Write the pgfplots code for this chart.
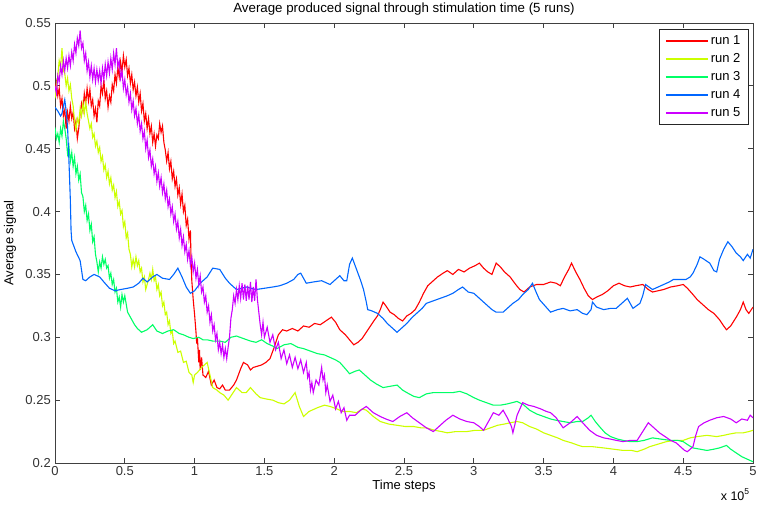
\documentclass[border=0pt]{standalone}
\usepackage{fontspec}
\setmainfont{Liberation Sans}
\usepackage{pgfplots}
\pgfplotsset{compat=1.18}
\definecolor{runA}{rgb}{1,0,0}
\definecolor{runB}{rgb}{0.8,1,0}
\definecolor{runC}{rgb}{0,1,0.4}
\definecolor{runD}{rgb}{0,0.4,1}
\definecolor{runE}{rgb}{0.8,0,1}
\begin{document}
\begin{tikzpicture}[x=1pt,y=1pt]
\path[use as bounding box] (0,0) rectangle (757,504);
\begin{axis}[
  at={(55pt,41pt)}, anchor=south west,
  width=698pt, height=440pt, scale only axis,
  xmin=0, xmax=5, ymin=0.2, ymax=0.55,
  xtick={0,0.5,1,1.5,2,2.5,3,3.5,4,4.5,5},
  xticklabels={0,0.5,1,1.5,2,2.5,3,3.5,4,4.5,5},
  ytick={0.2,0.25,0.3,0.35,0.4,0.45,0.5,0.55},
  yticklabels={0.2,0.25,0.3,0.35,0.4,0.45,0.5,0.55},
  tick align=inside, major tick length=5pt,
  axis line style={black!75, line width=0.8pt},
  tick style={black!75, line width=0.8pt},
  ticklabel style={font=\fontsize{13}{15}\selectfont, text=black!80},
  xticklabel style={anchor=north, inner sep=0pt, yshift=-3pt},
  yticklabel style={anchor=east, inner sep=0pt, xshift=-4pt},
  legend style={at={(0.994,0.986)}, anchor=north east, draw=black!85, line width=0.8pt,
    font=\fontsize{13}{15}\selectfont, row sep=3.6pt, inner xsep=6pt, inner ysep=4pt},
  legend cell align=left,
  legend image code/.code={\draw[#1] (0pt,0pt) -- (42pt,0pt);},
  every axis plot/.append style={line width=1.1pt},
]
\addlegendimage{draw=runA, line width=1.6pt}
\addlegendimage{draw=runB, line width=1.6pt}
\addlegendimage{draw=runC, line width=1.6pt}
\addlegendimage{draw=runD, line width=1.6pt}
\addlegendimage{draw=runE, line width=1.6pt}
\legend{run 1, run 2, run 3, run 4, run 5}
\addplot[draw=runA, forget plot] coordinates {(0.00,0.497)(0.01,0.503)(0.02,0.492)(0.03,0.498)(0.04,0.484)(0.05,0.490)(0.06,0.476)(0.07,0.481)(0.08,0.466)(0.09,0.479)(0.10,0.472)(0.11,0.484)(0.12,0.474)(0.13,0.479)(0.14,0.466)(0.15,0.472)(0.16,0.458)(0.17,0.466)(0.18,0.478)(0.19,0.486)(0.20,0.480)(0.21,0.494)(0.22,0.486)(0.23,0.498)(0.24,0.488)(0.25,0.497)(0.26,0.484)(0.27,0.489)(0.28,0.476)(0.29,0.482)(0.30,0.471)(0.31,0.488)(0.32,0.484)(0.33,0.500)(0.34,0.494)(0.35,0.505)(0.36,0.490)(0.37,0.496)(0.38,0.483)(0.39,0.492)(0.40,0.487)(0.41,0.501)(0.42,0.496)(0.43,0.509)(0.44,0.502)(0.45,0.515)(0.46,0.507)(0.47,0.519)(0.48,0.511)(0.49,0.524)(0.50,0.515)(0.51,0.521)(0.52,0.508)(0.53,0.514)(0.54,0.502)(0.55,0.509)(0.56,0.497)(0.57,0.503)(0.58,0.492)(0.59,0.499)(0.60,0.487)(0.61,0.494)(0.62,0.480)(0.63,0.486)(0.64,0.472)(0.65,0.478)(0.66,0.466)(0.67,0.474)(0.68,0.462)(0.69,0.468)(0.70,0.455)(0.71,0.462)(0.72,0.452)(0.73,0.461)(0.74,0.458)(0.75,0.470)(0.76,0.463)(0.77,0.468)(0.78,0.455)(0.79,0.449)(0.80,0.440)(0.81,0.447)(0.82,0.434)(0.83,0.440)(0.84,0.426)(0.85,0.432)(0.86,0.420)(0.87,0.426)(0.88,0.413)(0.89,0.419)(0.90,0.406)(0.91,0.414)(0.92,0.400)(0.93,0.405)(0.94,0.389)(0.95,0.394)(0.96,0.378)(0.97,0.385)(0.975,0.360)(0.98,0.345)(0.99,0.330)(1.00,0.318)(1.01,0.304)(1.015,0.295)(1.02,0.300)(1.03,0.280)(1.035,0.290)(1.04,0.274)(1.05,0.284)(1.06,0.270)(1.08,0.268)(1.1,0.273)(1.12,0.262)(1.14,0.266)(1.16,0.26)(1.18,0.259)(1.2,0.262)(1.22,0.258)(1.25,0.258)(1.28,0.262)(1.30,0.266)(1.33,0.275)(1.35,0.28)(1.38,0.278)(1.40,0.274)(1.42,0.276)(1.45,0.277)(1.48,0.278)(1.51,0.28)(1.54,0.283)(1.57,0.292)(1.60,0.302)(1.63,0.306)(1.66,0.305)(1.70,0.307)(1.74,0.305)(1.78,0.309)(1.82,0.308)(1.86,0.311)(1.90,0.31)(1.94,0.313)(1.98,0.316)(2.01,0.312)(2.04,0.306)(2.08,0.302)(2.11,0.298)(2.14,0.294)(2.17,0.296)(2.2,0.299)(2.23,0.304)(2.26,0.309)(2.29,0.314)(2.31,0.317)(2.33,0.322)(2.35,0.328)(2.37,0.325)(2.40,0.32)(2.43,0.318)(2.46,0.315)(2.49,0.313)(2.52,0.317)(2.55,0.319)(2.58,0.322)(2.61,0.328)(2.64,0.335)(2.67,0.341)(2.70,0.344)(2.74,0.348)(2.78,0.351)(2.81,0.353)(2.85,0.35)(2.89,0.354)(2.93,0.352)(2.97,0.355)(3.01,0.357)(3.04,0.359)(3.07,0.355)(3.10,0.352)(3.13,0.35)(3.16,0.359)(3.19,0.356)(3.22,0.352)(3.26,0.348)(3.30,0.342)(3.33,0.338)(3.36,0.336)(3.40,0.34)(3.45,0.342)(3.50,0.342)(3.55,0.344)(3.59,0.343)(3.62,0.341)(3.65,0.348)(3.68,0.354)(3.70,0.359)(3.73,0.352)(3.76,0.346)(3.79,0.339)(3.82,0.333)(3.85,0.33)(3.88,0.332)(3.92,0.334)(3.96,0.337)(4.00,0.341)(4.04,0.343)(4.08,0.341)(4.12,0.34)(4.16,0.341)(4.21,0.342)(4.25,0.338)(4.28,0.336)(4.32,0.337)(4.36,0.338)(4.41,0.34)(4.46,0.341)(4.50,0.342)(4.53,0.339)(4.57,0.334)(4.60,0.33)(4.64,0.326)(4.68,0.322)(4.72,0.319)(4.76,0.314)(4.79,0.309)(4.81,0.306)(4.84,0.309)(4.88,0.316)(4.91,0.322)(4.93,0.328)(4.95,0.322)(4.97,0.319)(5.0,0.324)};
\addplot[draw=runB, forget plot] coordinates {(0.00,0.490)(0.01,0.500)(0.02,0.508)(0.03,0.520)(0.04,0.515)(0.05,0.530)(0.06,0.512)(0.07,0.510)(0.08,0.500)(0.09,0.506)(0.10,0.496)(0.11,0.501)(0.12,0.490)(0.13,0.484)(0.14,0.472)(0.15,0.465)(0.16,0.474)(0.17,0.470)(0.18,0.482)(0.19,0.476)(0.20,0.486)(0.21,0.478)(0.22,0.487)(0.23,0.478)(0.24,0.472)(0.25,0.466)(0.26,0.470)(0.27,0.459)(0.28,0.462)(0.29,0.452)(0.30,0.456)(0.31,0.447)(0.32,0.451)(0.33,0.440)(0.34,0.444)(0.35,0.433)(0.36,0.437)(0.37,0.427)(0.38,0.432)(0.39,0.422)(0.40,0.427)(0.41,0.417)(0.42,0.421)(0.43,0.411)(0.44,0.416)(0.45,0.404)(0.46,0.408)(0.47,0.398)(0.48,0.401)(0.49,0.388)(0.50,0.392)(0.51,0.379)(0.52,0.383)(0.53,0.370)(0.54,0.366)(0.55,0.356)(0.56,0.362)(0.57,0.356)(0.58,0.364)(0.59,0.357)(0.60,0.361)(0.61,0.352)(0.62,0.355)(0.63,0.344)(0.64,0.348)(0.65,0.338)(0.66,0.342)(0.67,0.346)(0.68,0.351)(0.69,0.346)(0.70,0.354)(0.71,0.345)(0.72,0.348)(0.73,0.338)(0.74,0.342)(0.75,0.333)(0.76,0.336)(0.77,0.325)(0.78,0.328)(0.79,0.318)(0.80,0.320)(0.81,0.310)(0.82,0.313)(0.83,0.303)(0.84,0.305)(0.85,0.295)(0.86,0.297)(0.88,0.288)(0.90,0.289)(0.92,0.280)(0.94,0.281)(0.96,0.272)(0.98,0.270)(0.99,0.264)(1.00,0.270)(1.02,0.272)(1.05,0.276)(1.09,0.28)(1.11,0.27)(1.13,0.26)(1.16,0.258)(1.18,0.256)(1.21,0.254)(1.24,0.25)(1.27,0.255)(1.30,0.26)(1.34,0.256)(1.37,0.256)(1.40,0.26)(1.44,0.255)(1.47,0.252)(1.51,0.251)(1.56,0.25)(1.60,0.248)(1.64,0.247)(1.68,0.25)(1.72,0.256)(1.75,0.245)(1.78,0.237)(1.82,0.241)(1.88,0.244)(1.93,0.246)(1.97,0.245)(2.02,0.243)(2.06,0.241)(2.11,0.241)(2.16,0.24)(2.20,0.243)(2.23,0.242)(2.28,0.237)(2.33,0.233)(2.39,0.231)(2.45,0.23)(2.51,0.229)(2.57,0.229)(2.62,0.228)(2.66,0.228)(2.72,0.226)(2.77,0.225)(2.81,0.224)(2.87,0.225)(2.95,0.225)(3.01,0.226)(3.07,0.226)(3.12,0.228)(3.17,0.23)(3.22,0.231)(3.26,0.232)(3.31,0.233)(3.35,0.232)(3.40,0.229)(3.45,0.227)(3.50,0.224)(3.55,0.222)(3.60,0.22)(3.64,0.218)(3.70,0.216)(3.75,0.214)(3.78,0.213)(3.85,0.213)(3.93,0.212)(4.0,0.211)(4.07,0.21)(4.13,0.21)(4.17,0.209)(4.22,0.211)(4.26,0.213)(4.32,0.215)(4.38,0.217)(4.44,0.218)(4.50,0.218)(4.55,0.22)(4.60,0.221)(4.67,0.222)(4.74,0.221)(4.79,0.222)(4.83,0.223)(4.88,0.224)(4.93,0.224)(4.97,0.225)(5.0,0.226)};
\addplot[draw=runC, forget plot] coordinates {(0.00,0.467)(0.01,0.458)(0.02,0.462)(0.03,0.455)(0.04,0.466)(0.05,0.460)(0.06,0.472)(0.07,0.466)(0.08,0.458)(0.09,0.446)(0.10,0.452)(0.11,0.440)(0.12,0.447)(0.13,0.436)(0.14,0.443)(0.15,0.430)(0.16,0.436)(0.17,0.425)(0.18,0.430)(0.19,0.415)(0.20,0.412)(0.21,0.400)(0.22,0.405)(0.23,0.393)(0.24,0.398)(0.25,0.385)(0.26,0.390)(0.27,0.376)(0.28,0.380)(0.29,0.366)(0.30,0.360)(0.31,0.352)(0.32,0.360)(0.33,0.355)(0.34,0.364)(0.35,0.358)(0.36,0.362)(0.37,0.355)(0.38,0.357)(0.39,0.347)(0.40,0.351)(0.41,0.342)(0.42,0.346)(0.43,0.336)(0.44,0.339)(0.45,0.328)(0.46,0.332)(0.47,0.324)(0.48,0.334)(0.49,0.328)(0.50,0.333)(0.52,0.320)(0.54,0.316)(0.57,0.31)(0.59,0.307)(0.62,0.304)(0.66,0.306)(0.70,0.31)(0.73,0.305)(0.77,0.303)(0.81,0.305)(0.85,0.306)(0.89,0.303)(0.92,0.302)(0.96,0.3)(0.99,0.299)(1.03,0.3)(1.06,0.298)(1.09,0.298)(1.13,0.297)(1.18,0.297)(1.22,0.296)(1.26,0.3)(1.30,0.301)(1.35,0.299)(1.40,0.297)(1.44,0.296)(1.48,0.298)(1.52,0.295)(1.56,0.293)(1.59,0.291)(1.64,0.294)(1.69,0.295)(1.74,0.292)(1.78,0.291)(1.83,0.289)(1.88,0.287)(1.93,0.286)(1.97,0.284)(2.01,0.282)(2.04,0.28)(2.08,0.275)(2.11,0.271)(2.15,0.273)(2.18,0.274)(2.22,0.27)(2.26,0.266)(2.30,0.263)(2.35,0.26)(2.40,0.261)(2.45,0.262)(2.49,0.258)(2.52,0.256)(2.57,0.253)(2.61,0.252)(2.66,0.255)(2.71,0.256)(2.78,0.256)(2.85,0.256)(2.90,0.257)(2.95,0.255)(3.0,0.252)(3.04,0.25)(3.09,0.248)(3.14,0.246)(3.19,0.246)(3.24,0.247)(3.31,0.249)(3.36,0.246)(3.40,0.242)(3.45,0.239)(3.50,0.237)(3.55,0.235)(3.59,0.234)(3.64,0.233)(3.69,0.232)(3.74,0.233)(3.78,0.233)(3.82,0.236)(3.84,0.238)(3.87,0.233)(3.90,0.229)(3.94,0.224)(3.98,0.221)(4.03,0.219)(4.07,0.218)(4.12,0.217)(4.17,0.217)(4.22,0.218)(4.28,0.22)(4.34,0.219)(4.41,0.218)(4.46,0.218)(4.50,0.217)(4.54,0.214)(4.57,0.212)(4.62,0.211)(4.67,0.21)(4.72,0.211)(4.76,0.212)(4.81,0.214)(4.84,0.211)(4.88,0.208)(4.92,0.205)(4.96,0.203)(5.0,0.201)};
\addplot[draw=runD, forget plot] coordinates {(0,0.483)(0.02,0.48)(0.04,0.476)(0.05,0.478)(0.07,0.489)(0.08,0.48)(0.09,0.467)(0.10,0.44)(0.11,0.409)(0.115,0.385)(0.12,0.377)(0.15,0.368)(0.18,0.361)(0.20,0.346)(0.22,0.345)(0.25,0.348)(0.28,0.35)(0.32,0.348)(0.35,0.344)(0.39,0.339)(0.43,0.337)(0.47,0.338)(0.52,0.339)(0.56,0.34)(0.60,0.343)(0.63,0.347)(0.66,0.344)(0.70,0.348)(0.73,0.35)(0.77,0.347)(0.82,0.346)(0.85,0.35)(0.88,0.355)(0.91,0.348)(0.94,0.34)(0.97,0.335)(1.0,0.337)(1.04,0.343)(1.09,0.348)(1.13,0.355)(1.18,0.354)(1.22,0.347)(1.25,0.343)(1.30,0.338)(1.37,0.34)(1.44,0.338)(1.50,0.339)(1.56,0.34)(1.61,0.341)(1.66,0.343)(1.71,0.346)(1.74,0.35)(1.76,0.351)(1.80,0.343)(1.85,0.344)(1.91,0.345)(1.97,0.342)(2.01,0.346)(2.04,0.349)(2.07,0.345)(2.09,0.345)(2.11,0.358)(2.13,0.363)(2.16,0.354)(2.19,0.345)(2.21,0.338)(2.23,0.328)(2.24,0.322)(2.27,0.321)(2.31,0.319)(2.35,0.315)(2.38,0.311)(2.42,0.307)(2.45,0.304)(2.48,0.307)(2.52,0.311)(2.56,0.316)(2.59,0.319)(2.63,0.323)(2.66,0.327)(2.71,0.329)(2.76,0.331)(2.81,0.333)(2.85,0.335)(2.89,0.338)(2.92,0.34)(2.96,0.336)(3.0,0.335)(3.04,0.331)(3.09,0.326)(3.13,0.322)(3.16,0.32)(3.21,0.32)(3.25,0.324)(3.28,0.327)(3.32,0.33)(3.35,0.334)(3.39,0.338)(3.42,0.343)(3.45,0.335)(3.47,0.33)(3.51,0.325)(3.55,0.32)(3.60,0.322)(3.64,0.323)(3.69,0.321)(3.74,0.322)(3.78,0.319)(3.81,0.318)(3.84,0.322)(3.85,0.328)(3.88,0.324)(3.93,0.322)(3.98,0.323)(4.02,0.323)(4.06,0.327)(4.10,0.331)(4.14,0.323)(4.19,0.327)(4.21,0.333)(4.23,0.342)(4.28,0.338)(4.32,0.34)(4.36,0.342)(4.40,0.344)(4.43,0.346)(4.48,0.346)(4.52,0.346)(4.55,0.348)(4.57,0.351)(4.60,0.358)(4.62,0.364)(4.65,0.362)(4.69,0.359)(4.72,0.353)(4.74,0.352)(4.76,0.362)(4.79,0.37)(4.82,0.376)(4.85,0.372)(4.88,0.367)(4.91,0.364)(4.93,0.361)(4.96,0.366)(4.98,0.363)(5.0,0.37)};
\addplot[draw=runE, forget plot] coordinates {(0.00,0.500)(0.01,0.494)(0.02,0.508)(0.03,0.503)(0.04,0.516)(0.05,0.509)(0.06,0.520)(0.07,0.512)(0.08,0.522)(0.09,0.514)(0.10,0.524)(0.11,0.516)(0.12,0.527)(0.13,0.520)(0.14,0.533)(0.15,0.526)(0.16,0.538)(0.17,0.532)(0.18,0.544)(0.19,0.530)(0.20,0.534)(0.21,0.520)(0.22,0.526)(0.23,0.512)(0.24,0.519)(0.25,0.507)(0.26,0.516)(0.27,0.505)(0.28,0.514)(0.29,0.503)(0.30,0.513)(0.31,0.504)(0.32,0.512)(0.33,0.502)(0.34,0.514)(0.35,0.505)(0.36,0.517)(0.37,0.508)(0.38,0.519)(0.39,0.510)(0.40,0.522)(0.41,0.513)(0.42,0.526)(0.43,0.517)(0.44,0.530)(0.45,0.515)(0.46,0.520)(0.47,0.506)(0.48,0.512)(0.49,0.498)(0.50,0.505)(0.51,0.493)(0.52,0.499)(0.53,0.487)(0.54,0.494)(0.55,0.481)(0.56,0.488)(0.57,0.476)(0.58,0.482)(0.59,0.470)(0.60,0.477)(0.61,0.464)(0.62,0.470)(0.63,0.458)(0.64,0.464)(0.65,0.450)(0.66,0.457)(0.67,0.443)(0.68,0.449)(0.69,0.436)(0.70,0.442)(0.71,0.430)(0.72,0.436)(0.73,0.424)(0.74,0.431)(0.75,0.420)(0.76,0.427)(0.77,0.415)(0.78,0.422)(0.79,0.410)(0.80,0.417)(0.81,0.404)(0.82,0.410)(0.83,0.398)(0.84,0.404)(0.85,0.392)(0.86,0.398)(0.87,0.386)(0.88,0.392)(0.89,0.379)(0.90,0.386)(0.91,0.373)(0.92,0.380)(0.93,0.368)(0.94,0.374)(0.95,0.362)(0.96,0.369)(0.97,0.357)(0.98,0.364)(0.99,0.352)(1.00,0.359)(1.01,0.347)(1.02,0.354)(1.03,0.342)(1.04,0.349)(1.05,0.336)(1.06,0.340)(1.07,0.328)(1.08,0.333)(1.09,0.320)(1.10,0.325)(1.11,0.312)(1.12,0.318)(1.13,0.305)(1.14,0.310)(1.15,0.298)(1.16,0.303)(1.17,0.290)(1.18,0.296)(1.19,0.287)(1.20,0.294)(1.21,0.284)(1.22,0.291)(1.23,0.283)(1.24,0.292)(1.25,0.300)(1.26,0.315)(1.27,0.322)(1.28,0.333)(1.29,0.327)(1.30,0.338)(1.31,0.330)(1.32,0.341)(1.33,0.331)(1.34,0.343)(1.35,0.330)(1.36,0.342)(1.37,0.329)(1.38,0.341)(1.39,0.330)(1.40,0.344)(1.41,0.328)(1.42,0.340)(1.43,0.329)(1.44,0.346)(1.45,0.330)(1.46,0.320)(1.47,0.310)(1.48,0.302)(1.49,0.312)(1.50,0.300)(1.52,0.308)(1.54,0.296)(1.56,0.302)(1.58,0.290)(1.60,0.296)(1.62,0.283)(1.64,0.290)(1.66,0.279)(1.68,0.286)(1.70,0.276)(1.72,0.284)(1.74,0.275)(1.76,0.282)(1.78,0.272)(1.80,0.280)(1.81,0.268)(1.82,0.272)(1.83,0.258)(1.84,0.264)(1.85,0.256)(1.87,0.266)(1.89,0.262)(1.91,0.276)(1.92,0.266)(1.93,0.270)(1.94,0.256)(1.95,0.262)(1.97,0.249)(1.99,0.254)(2.01,0.243)(2.03,0.249)(2.05,0.240)(2.07,0.244)(2.09,0.234)(2.11,0.238)(2.15,0.238)(2.19,0.242)(2.23,0.245)(2.28,0.24)(2.33,0.237)(2.37,0.235)(2.42,0.233)(2.47,0.237)(2.52,0.24)(2.56,0.236)(2.61,0.232)(2.66,0.228)(2.71,0.225)(2.75,0.229)(2.80,0.234)(2.85,0.238)(2.90,0.235)(2.95,0.233)(3.0,0.232)(3.04,0.229)(3.07,0.226)(3.10,0.232)(3.14,0.24)(3.18,0.238)(3.21,0.242)(3.24,0.236)(3.27,0.229)(3.28,0.224)(3.31,0.238)(3.35,0.248)(3.39,0.246)(3.43,0.245)(3.48,0.243)(3.52,0.241)(3.55,0.24)(3.59,0.236)(3.64,0.228)(3.69,0.232)(3.74,0.237)(3.78,0.232)(3.83,0.226)(3.88,0.222)(3.93,0.22)(3.98,0.219)(4.02,0.218)(4.07,0.217)(4.12,0.218)(4.17,0.218)(4.21,0.225)(4.25,0.232)(4.29,0.228)(4.33,0.224)(4.37,0.221)(4.41,0.218)(4.45,0.216)(4.48,0.213)(4.51,0.21)(4.53,0.209)(4.57,0.213)(4.59,0.222)(4.61,0.229)(4.65,0.232)(4.69,0.234)(4.74,0.236)(4.79,0.237)(4.84,0.235)(4.88,0.232)(4.92,0.235)(4.96,0.234)(4.98,0.238)(5.0,0.236)};
\end{axis}
\node[font=\fontsize{13.3}{15}\selectfont] at (404,495) {Average produced signal through stimulation time (5 runs)};
\node[font=\fontsize{13}{15}\selectfont] at (404,18) {Time steps};
\node[font=\fontsize{13}{15}\selectfont, rotate=90] at (10,261) {Average signal};
\node[font=\fontsize{12.5}{14}\selectfont, anchor=base] at (735,4) {x 10\raisebox{6pt}{\fontsize{8.5}{9}\selectfont 5}};
\end{tikzpicture}
\end{document}
